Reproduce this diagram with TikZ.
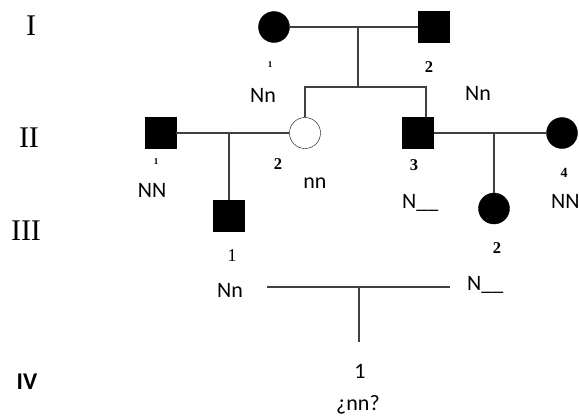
\documentclass[tikz,border=0pt]{standalone}
\usepackage{fontspec}
\setmainfont{Liberation Serif}
\newfontfamily\calfont{Carlito}
\begin{document}
\begin{tikzpicture}[x=1pt,y=-1pt,
  fem/.style={circle,draw=black,fill=black,minimum size=31pt,inner sep=0pt},
  mal/.style={rectangle,draw=black,fill=black,minimum size=31pt,inner sep=0pt},
  link/.style={draw=black!75,line width=1.1pt},
  gen/.style={font=\fontsize{30}{30}\selectfont,inner sep=0pt},
  geno/.style={font=\calfont\fontsize{22}{22}\selectfont,anchor=base,inner sep=0pt},
  num/.style={font=\bfseries\fontsize{16.5}{16.5}\selectfont,inner sep=0pt},
  tinynum/.style={font=\bfseries\fontsize{9}{9}\selectfont,inner sep=0pt}]
\useasboundingbox (0,0) rectangle (579,416);
% generation labels
\node[gen] (gI) at (31,26) {I};
\node[gen] (gII) at (29,138) {II};
\node[gen] (gIII) at (26,231) {III};
\node[font=\calfont\bfseries\fontsize{24}{24}\selectfont,anchor=base,inner sep=0pt] (gIV) at (27,389) {IV};
% individuals
\node[fem] (i1) at (274,27) {};
\node[mal] (i2) at (433.5,27) {};
\node[mal] (ii1) at (160.5,133) {};
\node[fem,fill=white] (ii2) at (305,133) {};
\node[mal] (ii3) at (418,133) {};
\node[fem] (ii4) at (562,133) {};
\node[mal] (iii1) at (229,216) {};
\node[fem] (iii2) at (494,208.5) {};
% junctions
\coordinate (m1) at (358,27);
\coordinate (s1) at (358,87);
\coordinate (s1r) at (426,87);
\coordinate (m2) at (229,133);
\coordinate (m3) at (494,133);
\coordinate (c3l) at (267,287);
\coordinate (c3r) at (450,287);
\coordinate (m4) at (359,287);
\coordinate (iv1) at (359,342);
% connectors
\draw[link] (i1) -- (i2);
\draw[link] (m1) -- (s1);
\draw[link] (ii2.north) -- (ii2.north |- s1) -- (s1r) -- (s1r |- ii3.north);
\draw[link] (ii1) -- (ii2);
\draw[link] (m2) -- (iii1);
\draw[link] (ii3) -- (ii4);
\draw[link] (m3) -- (iii2);
\draw[link] (c3l) -- (c3r);
\draw[link] (m4) -- (iv1);
% numbers
\node[tinynum] (n11) at (270,65) {1};
\node[num] (n12) at (429,67) {2};
\node[tinynum] (n21) at (156,162) {1};
\node[num] (n22) at (278,164.5) {2};
\node[num] (n23) at (414,165) {3};
\node[num,font=\bfseries\fontsize{14}{14}\selectfont] (n24) at (564,173) {4};
\node[num,font=\fontsize{18}{18}\selectfont] (n31) at (232,256) {1};
\node[num] (n32) at (497,248) {2};
\node[geno] (n41) at (360,378) {1};
% genotypes
\node[geno] (t11) at (263,102) {Nn};
\node[geno] (t12) at (478,100) {Nn};
\node[geno] (t21) at (152,197) {NN};
\node[geno] (t22) at (315,188) {nn};
\node[geno,anchor=base west] (t23) at (402,208) {N\_\_};
\node[geno,anchor=base west] (t24) at (551,208) {NN};
\node[geno] (t31) at (230,297) {Nn};
\node[geno,anchor=base west] (t32) at (467,290) {N\_\_};
\node[geno] (t41) at (358,410) {¿nn?};
\end{tikzpicture}
\end{document}
